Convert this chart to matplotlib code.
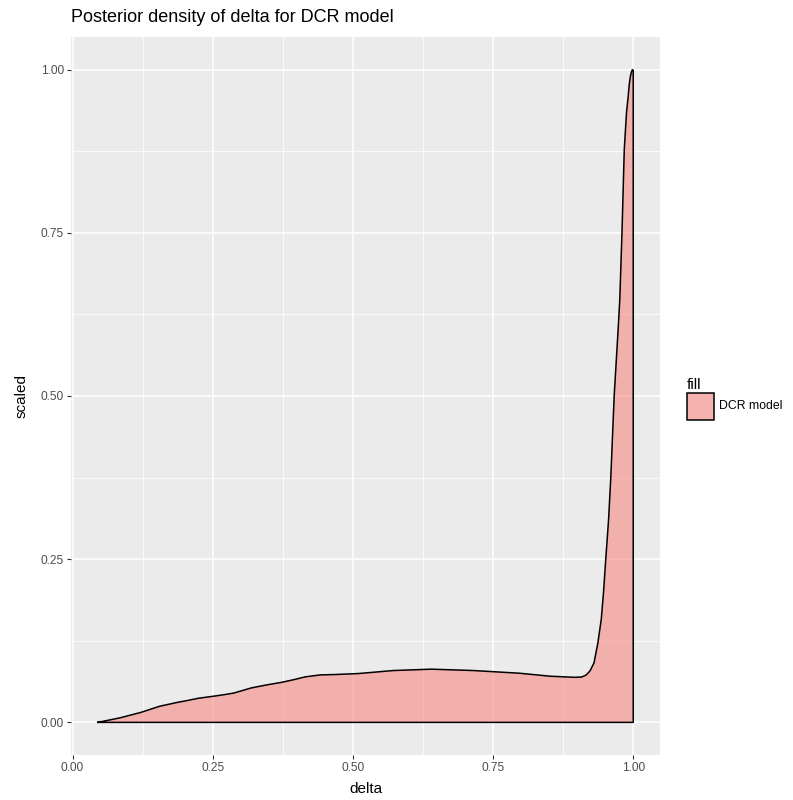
import matplotlib.pyplot as plt
from matplotlib.patches import Rectangle
import numpy as np

plt.rcParams["font.family"] = ["Liberation Sans", "DejaVu Sans"]

# posterior density of delta, scaled to max 1
delta = [
    0.045, 0.085, 0.122, 0.155, 0.189, 0.199, 0.225, 0.251, 0.271, 0.288,
    0.319, 0.347, 0.374, 0.395, 0.415, 0.442, 0.469, 0.510, 0.572, 0.640,
    0.715, 0.797, 0.852, 0.896, 0.908, 0.916, 0.923, 0.930, 0.937, 0.943,
    0.947, 0.951, 0.956, 0.960, 0.966, 0.973, 0.976, 0.980, 0.984, 0.988,
    0.991, 0.993, 0.995, 0.997, 0.9985, 1.000,
]
scaled = [
    0.000, 0.007, 0.0153, 0.0246, 0.031, 0.0325, 0.037, 0.040, 0.0425, 0.045,
    0.0528, 0.0575, 0.0615, 0.0655, 0.0697, 0.0727, 0.0733, 0.0748, 0.0794, 0.0815,
    0.0794, 0.0753, 0.0707, 0.069, 0.0695, 0.0725, 0.079, 0.091, 0.122, 0.158,
    0.199, 0.250, 0.310, 0.375, 0.500, 0.601, 0.647, 0.752, 0.877, 0.934,
    0.959, 0.978, 0.990, 0.997, 1.000, 0.999,
]
series_name = "DCR model"
x_ticks = [0.00, 0.25, 0.50, 0.75, 1.00]
y_ticks = [0.00, 0.25, 0.50, 0.75, 1.00]

W, H = 793, 800
fig = plt.figure(figsize=(W / 100, H / 100), dpi=100)
ax = fig.add_axes([71 / W, 1 - 755 / H, (660 - 71) / W, (755 - 37) / H])

ax.set_facecolor("#EBEBEB")
for s in ax.spines.values():
    s.set_visible(False)

xs = np.array(delta)
ys = np.array(scaled)
poly_x = np.concatenate([xs, [xs[-1], xs[0]]])
poly_y = np.concatenate([ys, [0, 0]])
ax.fill(poly_x, poly_y, facecolor="#F8766D", alpha=0.5, edgecolor="none", zorder=3)
ax.plot(np.append(poly_x, xs[0]), np.append(poly_y, 0), color="black", lw=1.1,
        solid_joinstyle="round", zorder=4)

rng = xs.max() - xs.min()
ax.set_xlim(xs.min() - 0.05 * rng, xs.max() + 0.05 * rng)
ax.set_ylim(-0.05, 1.05)

ax.set_xticks(x_ticks)
ax.set_xticklabels([f"{v:.2f}" for v in x_ticks])
ax.set_yticks(y_ticks)
ax.set_yticklabels([f"{v:.2f}" for v in y_ticks])
ax.set_xticks([0.125, 0.375, 0.625, 0.875], minor=True)
ax.set_yticks([0.125, 0.375, 0.625, 0.875], minor=True)
ax.grid(True, which="major", color="white", lw=1.1)
ax.grid(True, which="minor", color="white", lw=0.55)
ax.set_axisbelow(True)
ax.tick_params(which="major", length=3, width=0.8, color="#333333",
               labelcolor="#4D4D4D", labelsize=8.6, pad=2)
ax.tick_params(which="minor", length=0)

ax.set_xlabel("delta", fontsize=11, labelpad=6)
ax.set_ylabel("scaled", fontsize=11, labelpad=9)

fig.text(71 / W, 1 - 22 / H, "Posterior density of delta for DCR model",
         fontsize=13, va="baseline", ha="left")

# legend
fig.text(687 / W, 1 - 389 / H, "fill", fontsize=11, va="baseline", ha="left")
kx, ky, ks = 687 / W, 1 - 420 / H, 27
fig.patches.append(Rectangle((kx, ky), ks / W, ks / H, transform=fig.transFigure,
                             facecolor="#F2F2F2", edgecolor="none"))
fig.patches.append(Rectangle((kx, ky), ks / W, ks / H, transform=fig.transFigure,
                             facecolor="#F8766D", alpha=0.5, edgecolor="none"))
fig.patches.append(Rectangle((kx, ky), ks / W, ks / H, transform=fig.transFigure,
                             facecolor="none", edgecolor="black", lw=1.1))
fig.text(719 / W, 1 - 406 / H, series_name, fontsize=8.8, va="center", ha="left")

fig.savefig("out.png", dpi=100)
